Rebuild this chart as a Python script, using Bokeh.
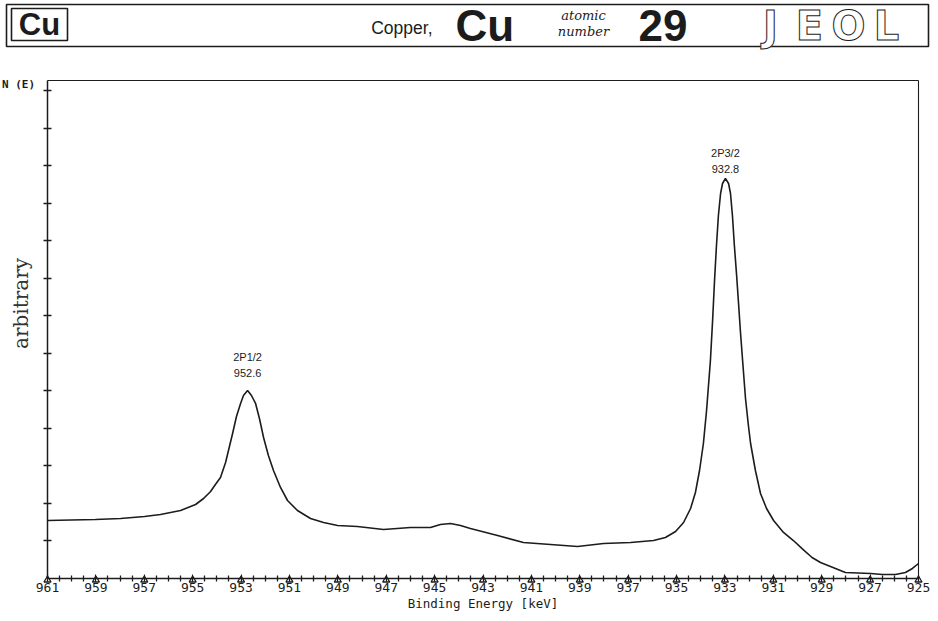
import numpy as np
from bokeh.plotting import figure
from bokeh.models import Range1d, FixedTicker, LinearAxis, ColumnDataSource
from bokeh.embed import file_html
from bokeh.resources import INLINE
from bokeh.core.properties import value

# ---- data (binding energy in eV, intensity in y-tick units) ----
energy_ev = [961.00, 959.02, 957.98, 956.99, 956.33, 955.50, 954.88, 954.55, 954.26, 954.06,
             953.85, 953.64, 953.52, 953.35, 953.19, 953.02, 952.90, 952.73, 952.57, 952.40,
             952.24, 952.07, 951.87, 951.66, 951.37, 951.08, 950.67, 950.13, 949.59, 949.01,
             948.19, 947.11, 946.00, 945.17, 944.76, 944.34, 943.93, 943.52, 942.40, 941.33,
             940.21, 939.09, 938.02, 936.90, 935.95, 935.46, 935.04, 934.71, 934.42, 934.22,
             934.05, 933.89, 933.76, 933.68, 933.60, 933.51, 933.43, 933.35, 933.27, 933.18,
             933.10, 932.98, 932.85, 932.77, 932.69, 932.61, 932.52, 932.44, 932.36, 932.27,
             932.15, 932.03, 931.94, 931.74, 931.53, 931.28, 930.99, 930.58, 930.17, 929.80,
             929.40, 929.05, 928.02, 926.98, 926.49, 925.95, 925.54, 925.25, 925.00]
intensity = [1.547, 1.573, 1.600, 1.653, 1.707, 1.813, 1.973, 2.133, 2.320, 2.507,
             2.693, 3.093, 3.413, 3.867, 4.320, 4.667, 4.880, 5.013, 4.880, 4.667,
             4.267, 3.760, 3.280, 2.880, 2.427, 2.080, 1.813, 1.600, 1.493, 1.413,
             1.387, 1.307, 1.360, 1.360, 1.440, 1.467, 1.413, 1.333, 1.147, 0.960,
             0.907, 0.853, 0.933, 0.960, 1.013, 1.093, 1.253, 1.493, 1.867, 2.293,
             2.880, 3.600, 4.480, 5.147, 5.813, 6.880, 7.947, 8.880, 9.680, 10.267,
             10.533, 10.667, 10.533, 10.267, 9.680, 8.880, 8.107, 7.360, 6.587, 5.813,
             4.800, 4.080, 3.600, 2.880, 2.267, 1.867, 1.547, 1.227, 1.013, 0.790,
             0.560, 0.427, 0.160, 0.133, 0.107, 0.107, 0.160, 0.267, 0.400]

x_tick_values = [961, 959, 957, 955, 953, 951, 949, 947, 945, 943, 941, 939, 937, 935, 933, 931, 929, 927, 925]
x_tick_labels = [str(v) for v in x_tick_values]
y_tick_values = list(range(1, 14))
y_top = 13.28

peak_names = ["2P1/2", "2P3/2"]
peak_values = ["952.6", "932.8"]
peak_label_x = [952.73, 932.98]
peak_label_y = [5.013, 10.667]

INK = "#1c1c1c"
MONO = "DejaVu Sans Mono"

# frame covers the whole page; axes are fixed inside it
p = figure(width=938, height=621,
           x_range=Range1d(962.943, 924.173), y_range=Range1d(-1.1467, 15.4133),
           x_axis_location=None, y_axis_location=None,
           toolbar_location=None, output_backend="svg", min_border=0)
p.grid.visible = False
p.outline_line_color = None
p.background_fill_color = "white"
p.border_fill_color = "white"
p.extra_x_ranges = {"px": Range1d(0, 938)}
p.extra_y_ranges = {"py": Range1d(621, 0)}

# ---------------- header strip (page-pixel ranges) ----------------
H = dict(x_range_name="px", y_range_name="py")
p.quad(left=[6], right=[928], top=[4], bottom=[46], fill_color=None, line_color=INK, line_width=1.6, **H)
p.quad(left=[11], right=[67], top=[8], bottom=[40], fill_color=None, line_color=INK, line_width=1.6, **H)
p.text(x=[39], y=[24], text=["Cu"], text_font=value("Liberation Sans"), text_font_style="bold",
       text_font_size="31px", text_align="center", text_baseline="middle", text_color=INK, **H)
p.text(x=[432], y=[27], text=["Copper,"], text_font=value("Liberation Sans"),
       text_font_size="17.5px", text_align="right", text_baseline="middle", text_color=INK, **H)
p.text(x=[455], y=[25], text=["Cu"], text_font=value("Liberation Sans"), text_font_style="bold",
       text_font_size="44px", text_align="left", text_baseline="middle", text_color=INK, **H)
p.text(x=[583], y=[15], text=["atomic"], text_font=value("DejaVu Serif"), text_font_style="italic",
       text_font_size="13px", text_align="center", text_baseline="middle", text_color=INK, **H)
p.text(x=[583], y=[31], text=["number"], text_font=value("DejaVu Serif"), text_font_style="italic",
       text_font_size="13px", text_align="center", text_baseline="middle", text_color=INK, **H)
p.text(x=[638], y=[25], text=["29"], text_font=value("Liberation Sans"), text_font_style="bold",
       text_font_size="44px", text_align="left", text_baseline="middle", text_color=INK, **H)
p.text(x=[770, 809, 848, 886], y=[25] * 4, text=["J", "E", "O", "L"], text_font=value("DejaVu Sans"),
       text_font_style="bold", text_font_size="40px", text_align="center", text_baseline="middle",
       text_color="white", text_outline_color=INK, **H)

# ---------------- spectrum ----------------
src = ColumnDataSource(dict(x=energy_ev, y=intensity))
p.line("x", "y", source=src, line_color=INK, line_width=1.6)

minor = list(np.arange(925, 961.01, 0.5))
xax = LinearAxis(fixed_location=0, bounds=(925, 961),
                 ticker=FixedTicker(ticks=x_tick_values, minor_ticks=minor))
xax.major_label_overrides = {v: l for v, l in zip(x_tick_values, x_tick_labels)}
xax.axis_label = "Binding Energy [keV]"
xax.axis_label_text_font = MONO
xax.axis_label_text_font_style = "normal"
xax.axis_label_text_font_size = "12.5px"
xax.axis_label_standoff = 0
xax.axis_label_text_color = INK
xax.major_label_text_font = MONO
xax.major_label_text_font_size = "13px"
xax.major_label_text_color = INK
xax.major_label_standoff = 2
xax.axis_line_width = 1.5
xax.axis_line_color = INK
xax.major_tick_in = 4
xax.major_tick_out = 3
xax.minor_tick_in = 3
xax.minor_tick_out = 3
xax.major_tick_line_color = INK
xax.minor_tick_line_color = INK
xax.minor_tick_line_width = 1.3
p.add_layout(xax, "below")

yax = LinearAxis(fixed_location=961, bounds=(0, y_top), ticker=FixedTicker(ticks=y_tick_values))
yax.major_label_text_color = None
yax.axis_line_width = 1.5
yax.axis_line_color = INK
yax.major_tick_in = 4
yax.major_tick_out = 4
yax.major_tick_line_width = 1.4
yax.major_tick_line_color = INK
yax.minor_tick_line_color = None
p.add_layout(yax, "left")

# plot box: top and right edges
for loc, side, bnds in [(y_top, "above", (925, 961)), (925, "right", (0, y_top))]:
    ax = LinearAxis(fixed_location=loc, bounds=bnds, ticker=FixedTicker(ticks=[]))
    ax.major_label_text_color = None
    ax.axis_line_color = INK
    ax.axis_line_width = 1.1
    ax.major_tick_line_color = None
    ax.minor_tick_line_color = None
    p.add_layout(ax, side)

p.scatter(x=x_tick_values, y=[-0.04] * len(x_tick_values), marker="triangle", size=7,
          fill_color="white", line_color=INK, line_width=1.3)

# peak annotations
name_offset = [0.90, 0.69]
value_offset = [0.46, 0.26]
p.text(x=peak_label_x, y=[v + o for v, o in zip(peak_label_y, name_offset)], text=peak_names,
       text_font=value("Liberation Sans"), text_font_size="11px", text_align="center",
       text_baseline="middle", text_color=INK)
p.text(x=peak_label_x, y=[v + o for v, o in zip(peak_label_y, value_offset)], text=peak_values,
       text_font=value("Liberation Sans"), text_font_size="11px", text_align="center",
       text_baseline="middle", text_color=INK)

# N(E) and "arbitrary"
p.text(x=[18], y=[84], text=["N (E)"], text_font=value(MONO), text_font_style="bold",
       text_font_size="11px", text_align="center", text_baseline="middle", text_color=INK, **H)
p.text(x=[20], y=[303], text=["arbitrary"], text_font=value("DejaVu Serif"),
       text_font_size="20px", text_align="center", text_baseline="middle",
       angle=np.pi / 2, text_color="#333333", **H)

open("out.html", "w").write(file_html(p, INLINE))
